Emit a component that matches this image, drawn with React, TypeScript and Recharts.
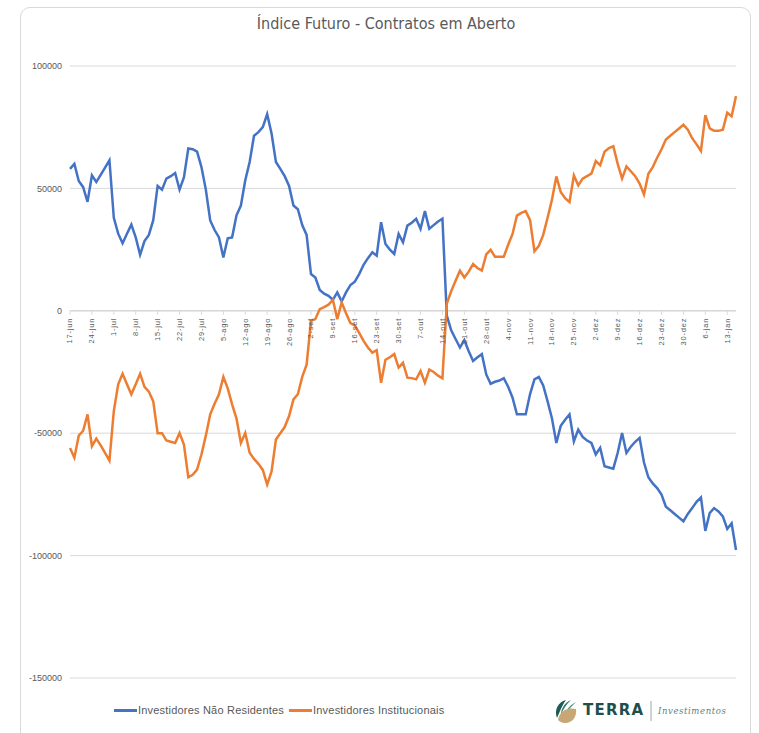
import { LineChart, Line, XAxis, YAxis, CartesianGrid, ReferenceLine } from 'recharts';

// Weekly tick labels (one every 5 trading days)
const weekLabels = [
  '17-jun', '24-jun', '1-jul', '8-jul', '15-jul', '22-jul', '29-jul', '5-ago', '12-ago', '19-ago',
  '26-ago', '2-set', '9-set', '16-set', '23-set', '30-set', '7-out', '14-out', '21-out', '28-out',
  '4-nov', '11-nov', '18-nov', '25-nov', '2-dez', '9-dez', '16-dez', '23-dez', '30-dez', '6-jan',
  '13-jan',
];

// Investidores Não Residentes (contratos)
const naoResidentes = [
  58000, 60000, 53000, 50500, 44500, 55300, 52600, 55500, 58500, 61500,
  38000, 31500, 27600, 31500, 35200, 30000, 22900, 28500, 31000, 37000,
  51000, 49500, 54000, 55000, 56300, 49500, 54500, 66300, 66000, 65000,
  58700, 49500, 36900, 33000, 30000, 21800, 29600, 30000, 39000, 43000,
  53300, 60800, 71500, 73000, 75000, 80300, 72400, 60800, 58000, 55000,
  51000, 43000, 41500, 35000, 31000, 15000, 13600, 8500, 7000, 6100,
  4500, 7500, 3800, 7500, 10500, 11900, 15000, 18800, 21500, 23900,
  22500, 36200, 27300, 25000, 23200, 31400, 28000, 34800, 36000, 37600,
  33500, 40700, 33500, 35000, 36500, 37600, -2000, -8000, -11500, -15000,
  -12000, -16500, -20500, -19000, -17700, -26000, -29800, -29000, -28500, -27500,
  -31000, -35500, -42300, -42300, -42300, -34000, -28000, -27000, -30500, -37000,
  -44000, -54000, -47000, -44500, -42300, -53300, -48500, -51500, -53000, -54000,
  -58700, -56000, -63500, -64000, -64500, -58000, -49900, -58100, -55500, -53500,
  -51900, -62000, -68000, -70500, -72400, -75100, -80000, -81500, -83000, -84500,
  -86000, -83000, -80600, -78000, -76200, -89900, -82600, -80600, -82000, -84000,
  -89100, -86800, -97700,
];

// Investidores Institucionais (contratos)
const institucionais = [
  -56000, -60000, -51000, -49000, -42300, -55300, -52200, -55000, -58000, -61200,
  -41000, -30000, -25700, -30000, -34100, -30000, -25700, -31100, -33000, -37000,
  -50000, -50000, -53000, -53500, -54000, -49900, -54600, -68000, -67000, -64900,
  -58700, -51000, -42300, -38000, -34100, -27000, -31700, -38200, -44000, -54000,
  -49900, -58000, -60500, -62500, -65000, -71000, -65600, -52600, -50000, -47500,
  -43000, -36200, -34100, -27000, -22000, -4100, -3400, 700, 1500, 2500,
  4500, -3400, 3400, -1000, -5000, -6000, -9000, -12300, -15000, -17100,
  -16100, -29400, -20000, -19000, -17700, -23200, -21200, -27300, -27500, -28000,
  -24600, -29400, -24000, -25000, -26500, -27600, 3000, 8000, 12300, 16400,
  13600, 16000, 19100, 17500, 16400, 23000, 24900, 22100, 22100, 22100,
  27000, 31400, 38900, 40000, 40700, 37000, 24300, 26500, 31000, 38000,
  45400, 54900, 48500, 46000, 44400, 55300, 51200, 54000, 55000, 56000,
  61200, 59500, 65000, 66500, 67200, 60000, 54000, 59000, 57000, 55000,
  52000, 47500, 56000, 58700, 62500, 66000, 70000, 71500, 73000, 74500,
  76000, 74000, 70500, 68000, 65300, 79900, 74500, 73500, 73500, 74000,
  80900, 79500, 87700,
];

const yTicks = [-150000, -100000, -50000, 0, 50000, 100000];

const series = [
  { key: 'naoResidentes', name: 'Investidores Não Residentes', color: '#4472C4' },
  { key: 'institucionais', name: 'Investidores Institucionais', color: '#ED7D31' },
];

const data = naoResidentes.map((v, i) => ({
  i,
  naoResidentes: v,
  institucionais: institucionais[i],
}));

const W = 759;
const H = 733;
const X_AXIS_H = 20;
const MARGIN = { top: 66, right: 23, bottom: 55 - X_AXIS_H, left: 10 };
const Y_MIN = -150000;
const Y_MAX = 100000;
const PLOT_H = H - MARGIN.top - MARGIN.bottom - X_AXIS_H;
const ZERO_Y = MARGIN.top + (PLOT_H * Y_MAX) / (Y_MAX - Y_MIN);

const axisFont = "'Liberation Sans', Arial, sans-serif";

// category labels sit on the zero line, like Excel does
const DateTick = (props: any) => {
  const { x, payload } = props;
  const label = weekLabels[Number(payload.value) / 5];
  if (label === undefined) return null;
  return (
    <g>
      <line x1={x} x2={x} y1={ZERO_Y} y2={ZERO_Y + 4} stroke="#d9d9d9" />
      <text
        x={x}
        y={ZERO_Y + 7}
        dy="0.33em"
        textAnchor="end"
        transform={`rotate(-90 ${x} ${ZERO_Y + 7})`}
        fontSize={7.5}
        letterSpacing={0.8}
        fill="#595959"
        fontFamily={axisFont}
      >
        {label}
      </text>
    </g>
  );
};

const Logo = () => (
  <svg width={180} height={30} style={{ position: 'absolute', left: 552, top: 696 }}>
    <path d="M14 4 C6 6 2 14 5 22 C7 18 9 11 14 4 Z" fill="#1f5a55" />
    <path d="M19 4 C12 7 9 13 9 19 C11 13 14 9 19 4 Z" fill="#2e7a6d" />
    <path d="M24 6 C18 9 15 13 14 17 C17 13 20 10 24 6 Z" fill="#3f8e7d" />
    <path d="M6 24 C8 14 16 11 24 13 C25 20 21 27 13 27 C10 27 8 26 6 24 Z" fill="#c8a676" />
    <text x={31} y={19} fontSize={15} fontWeight="bold" fill="#1f4f4c" fontFamily="'DejaVu Sans', sans-serif" letterSpacing={1.2}>
      TERRA
    </text>
    <line x1={99} x2={99} y1={5} y2={25} stroke="#9aa9a7" strokeWidth={1} />
    <text x={106} y={18} fontSize={8.5} fontStyle="italic" fill="#5d7f7b" fontFamily="'DejaVu Serif', serif" letterSpacing={0.6}>
      Investimentos
    </text>
  </svg>
);

export default function App() {
  return (
    <div style={{ position: 'absolute', left: 0, top: 0, width: W, height: H, background: '#ffffff', overflow: 'hidden' }}>
      <div
        style={{
          position: 'absolute',
          left: 20,
          top: 7,
          width: 731,
          height: 740,
          border: '1px solid #d9d9d9',
          borderRadius: 10,
          boxSizing: 'border-box',
        }}
      />
      <div
        style={{
          position: 'absolute',
          left: 20,
          width: 732,
          top: 14,
          textAlign: 'center',
          fontFamily: "'Liberation Sans Narrow', 'DejaVu Sans Condensed', sans-serif",
          fontSize: 16,
          color: '#595959',
        }}
      >
        Índice Futuro - Contratos em Aberto
      </div>
      <div style={{ position: 'absolute', left: 0, top: 0 }}>
        <LineChart width={W} height={H} data={data} margin={MARGIN}>
          <CartesianGrid horizontal vertical={false} stroke="#d9d9d9" />
          <YAxis
            domain={[Y_MIN, Y_MAX]}
            ticks={yTicks}
            width={60}
            axisLine={false}
            tickLine={false}
            interval={0}
            tick={{ fontSize: 9, fill: '#595959', fontFamily: axisFont }}
            tickFormatter={(v: number) => String(v)}
          />
          <XAxis
            dataKey="i"
            type="category"
            interval={4}
            height={X_AXIS_H}
            axisLine={false}
            tickLine={false}
            tick={(p: any) => <DateTick {...p} />}
          />
          <ReferenceLine y={0} stroke="#d0d0d0" />
          {series.map((s) => (
            <Line
              key={s.key}
              type="linear"
              dataKey={s.key}
              name={s.name}
              stroke={s.color}
              strokeWidth={2.5}
              dot={false}
              isAnimationActive={false}
            />
          ))}
        </LineChart>
      </div>
      <div
        style={{
          position: 'absolute',
          left: 114,
          top: 704,
          display: 'flex',
          alignItems: 'center',
          gap: 5,
          fontFamily: axisFont,
          fontSize: 11,
          letterSpacing: 0.2,
          color: '#595959',
        }}
      >
        {series.map((s) => (
          <div key={s.key} style={{ display: 'flex', alignItems: 'center' }}>
            <div style={{ width: 23, height: 3, background: s.color, marginRight: 1 }} />
            <span>{s.name}</span>
          </div>
        ))}
      </div>
      <Logo />
    </div>
  );
}
